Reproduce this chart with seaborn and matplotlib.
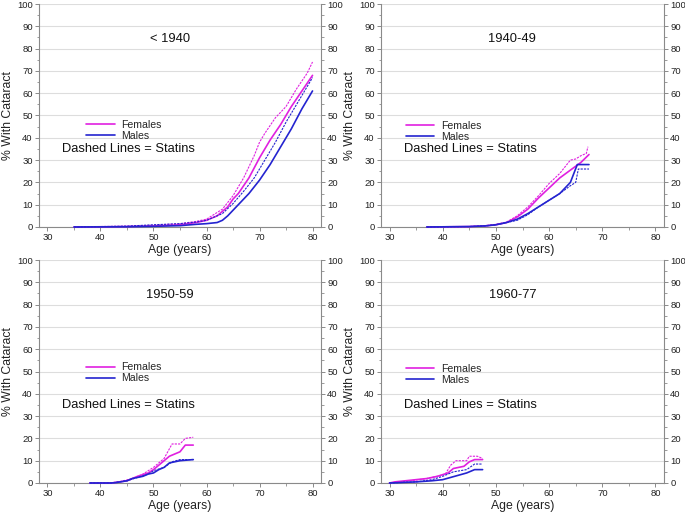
import pandas as pd
import matplotlib
matplotlib.use("Agg")
import matplotlib.pyplot as plt
import seaborn as sns
from matplotlib.ticker import MultipleLocator

# ---- data (age in years, % with cataract) ----
cohorts = ["< 1940", "1940-49", "1950-59", "1960-77"]

# < 1940
p1_f_age = [35, 45, 50, 55, 58, 60, 62, 64, 65, 66, 68, 70, 72, 74, 75, 76, 78, 80]
p1_f_val = [0, 0.2, 0.5, 1, 2, 3, 5, 9, 12.5, 15, 22, 31, 39, 46, 50, 54, 61, 68]
p1_fs_age = [35, 45, 50, 55, 58, 60, 63, 65, 67, 69, 70, 71, 73, 75, 77, 79, 80]
p1_fs_val = [0, 0.3, 0.8, 1.5, 2.5, 3.5, 8, 14, 22, 32, 38, 42, 49, 54, 62, 69, 74]
p1_m_age = [35, 45, 50, 55, 58, 60, 62, 63, 64, 65, 66, 68, 70, 72, 74, 75, 76, 78, 80]
p1_m_val = [0, 0.1, 0.3, 0.6, 1.2, 1.5, 2, 3, 5, 7.5, 10, 15, 21, 28, 36, 40, 44, 53, 61]
p1_ms_age = [35, 45, 50, 55, 58, 60, 63, 65, 67, 69, 70, 71, 73, 75, 77, 79, 80]
p1_ms_val = [0, 0.4, 1, 1.5, 2.2, 3, 6, 10.5, 16, 22, 26, 30, 38, 47, 55, 63, 67]

# 1940-49
p2_f_age = [37, 45, 48, 50, 52, 54, 56, 58, 60, 62, 64, 66, 67.5]
p2_f_val = [0, 0.2, 0.5, 1, 2, 4.5, 8, 13, 17.5, 22, 25.5, 29, 32.5]
p2_fs_age = [37, 45, 48, 50, 52, 54, 56, 58, 60, 62, 64, 65, 66, 67, 67.3]
p2_fs_val = [0, 0.2, 0.6, 1.2, 2.2, 5, 9, 14, 19.5, 24, 30, 30.5, 32, 33, 36]
p2_m_age = [37, 45, 48, 50, 52, 54, 56, 58, 60, 62, 64, 65.3, 67.5]
p2_m_val = [0, 0.2, 0.5, 1, 2, 3.5, 6, 9, 12, 15, 20, 28, 28]
p2_ms_age = [37, 45, 48, 50, 52, 54, 56, 58, 60, 62, 64, 65, 65.5, 67.5]
p2_ms_val = [0, 0.2, 0.5, 1, 2, 3, 5.5, 9, 12, 15, 18.5, 20, 26, 26]

# 1950-59
p3_f_age = [38, 42, 43, 45, 46, 47, 49, 50, 51, 52, 53, 55, 56, 57.5]
p3_f_val = [0, 0, 0.3, 1, 2, 3, 4.5, 6, 8, 10, 12, 14, 17, 17]
p3_fs_age = [38, 42, 44, 46, 48, 49, 50, 52, 53.5, 55, 56, 57.5]
p3_fs_val = [0, 0, 0.8, 2, 4, 5.5, 7, 11, 17.5, 17.5, 20, 20.5]
p3_m_age = [38, 42, 43, 45, 46, 48, 49, 50, 51, 52, 53, 55, 57.5]
p3_m_val = [0, 0, 0.2, 1, 2, 3, 4, 4.5, 6, 7, 9, 10, 10.5]
p3_ms_age = [38, 42, 45, 47, 49, 50, 52, 53.5, 55, 57.5]
p3_ms_val = [0, 0, 1, 2.5, 4, 5.5, 7, 9.5, 10.5, 10.5]

# 1960-77
p4_f_age = [30, 31, 33, 35, 37, 39, 41, 42, 44, 45, 46, 47.5]
p4_f_val = [0, 0.5, 1, 1.5, 2, 3, 4.5, 6.5, 7.5, 9.5, 10.5, 10.5]
p4_fs_age = [30, 31, 34, 37, 39, 40.5, 41.5, 42.5, 44.5, 45, 46.5, 47.5]
p4_fs_val = [0, 0.3, 1, 2, 3, 4, 8, 10, 10, 12, 12, 11]
p4_m_age = [30, 33, 35, 38, 40, 41.5, 43, 44.5, 46, 47.5]
p4_m_val = [0, 0.3, 0.5, 1, 1.5, 2.5, 3.5, 4.5, 6, 6]
p4_ms_age = [30, 35, 38, 40, 41, 42, 44.5, 46, 47.5]
p4_ms_val = [0, 0.5, 1.5, 3, 4, 5, 6, 8.5, 8.5]

ages = [
    [p1_f_age, p1_fs_age, p1_m_age, p1_ms_age],
    [p2_f_age, p2_fs_age, p2_m_age, p2_ms_age],
    [p3_f_age, p3_fs_age, p3_m_age, p3_ms_age],
    [p4_f_age, p4_fs_age, p4_m_age, p4_ms_age],
]
vals = [
    [p1_f_val, p1_fs_val, p1_m_val, p1_ms_val],
    [p2_f_val, p2_fs_val, p2_m_val, p2_ms_val],
    [p3_f_val, p3_fs_val, p3_m_val, p3_ms_val],
    [p4_f_val, p4_fs_val, p4_m_val, p4_ms_val],
]

MAGENTA = "#e020e0"
BLUE = "#2424d0"
GRAY = "#8a8a8a"

series_style = [
    ("Females", MAGENTA, "-", 1.2),
    ("_nolegend_", MAGENTA, (0, (2, 1)), 0.8),
    ("Males", BLUE, "-", 1.2),
    ("_nolegend_", BLUE, (0, (2, 1)), 0.8),
]

# legend anchor (axes fraction) per panel
legend_pos = [(0.168, 0.433), (0.088, 0.428), (0.168, 0.494), (0.088, 0.488)]

sns.set_theme(style="white")
plt.rcParams["font.family"] = ["Liberation Sans", "DejaVu Sans"]

fig = plt.figure(figsize=(6.85, 5.13), dpi=100)
rects = [
    (39 / 685, 1 - 227 / 513, 282 / 685, 223 / 513),
    (381 / 685, 1 - 227 / 513, 283 / 685, 223 / 513),
    (39 / 685, 1 - 483 / 513, 282 / 685, 223 / 513),
    (381 / 685, 1 - 483 / 513, 283 / 685, 223 / 513),
]

for i, rect in enumerate(rects):
    ax = fig.add_axes(rect)
    for j, (label, color, ls, lw) in enumerate(series_style):
        df = pd.DataFrame({"age": ages[i][j], "pct": vals[i][j]})
        sns.lineplot(data=df, x="age", y="pct", ax=ax, color=color,
                     linestyle=ls, linewidth=lw, label=label,
                     clip_on=False, zorder=3)

    ax.set_xlim(28.4, 81.6)
    ax.set_ylim(0, 100)
    ax.xaxis.set_major_locator(MultipleLocator(10))
    ax.xaxis.set_minor_locator(MultipleLocator(5))
    ax.yaxis.set_major_locator(MultipleLocator(10))
    ax.yaxis.set_minor_locator(MultipleLocator(5))
    ax.grid(axis="y", which="major", color="#dddddd", linewidth=0.8)
    ax.set_axisbelow(True)

    for side in ["left", "right", "bottom"]:
        ax.spines[side].set_color(GRAY)
        ax.spines[side].set_linewidth(0.8)
    ax.spines["top"].set_visible(False)

    ax.tick_params(axis="both", which="major", direction="out", length=3,
                   width=0.7, color=GRAY, labelsize=6.8, pad=1.5,
                   labelcolor="#222222")
    ax.tick_params(axis="both", which="minor", direction="out", length=1.8,
                   width=0.6, color=GRAY)
    ax.tick_params(axis="y", which="both", left=True, right=True,
                   labelright=True)
    ax.tick_params(axis="x", which="both", bottom=True)

    ax.set_xlabel("Age (years)", fontsize=8.8, labelpad=1, color="#222222")
    ax.set_ylabel("% With Cataract", fontsize=8.8, labelpad=2, color="#222222")

    ax.text(53.1, 84.5, cohorts[i], ha="center", va="center", fontsize=9.3,
            color="#111111")
    ax.text(32.7, 35.0, "Dashed Lines = Statins", ha="left", va="center",
            fontsize=9.3, color="#111111")

    ax.legend(loc="center left", bbox_to_anchor=legend_pos[i], frameon=False,
              fontsize=7.6, handlelength=2.7, handletextpad=0.6,
              labelspacing=0.12, borderpad=0, borderaxespad=0)

fig.savefig("out.png", dpi=100)
